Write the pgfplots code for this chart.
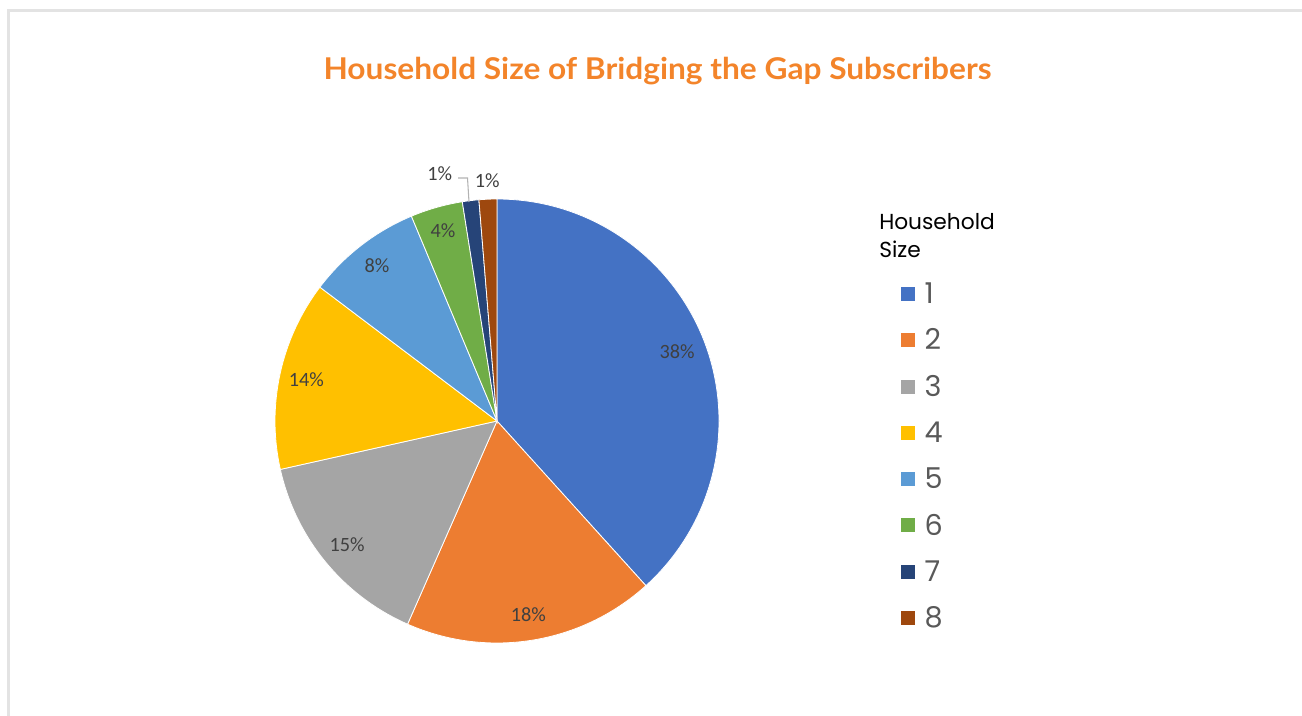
\documentclass[border=0pt]{standalone}
\usepackage{pgfplots}
\pgfplotsset{compat=1.18}
\usepackage{pgfplotstable}
\usepackage{fontspec}
\setmainfont{Carlito}
\newfontfamily\titlefont{Lato}
\newfontfamily\legfont{Poppins}

\definecolor{c1}{HTML}{4472C4}
\definecolor{c2}{HTML}{ED7D31}
\definecolor{c3}{HTML}{A5A5A5}
\definecolor{c4}{HTML}{FFC000}
\definecolor{c5}{HTML}{5B9BD5}
\definecolor{c6}{HTML}{70AD47}
\definecolor{c7}{HTML}{264478}
\definecolor{c8}{HTML}{9E480E}
\definecolor{titleorange}{HTML}{F3842A}
\definecolor{labgray}{HTML}{404040}
\definecolor{leggray}{HTML}{595959}

% household size, share in percent, label radius (px), label angle shift
\pgfplotstableread{
size value lr ldelta
1 38.3 193 0
2 18.3 196 0
3 14.9 194 0
4 13.8 195 0
5 8.4 196 0
6 3.8 198 0
7 1.2 254 6.2
8 1.3 241 0
}\piedata

\begin{document}
\begin{tikzpicture}
\begin{axis}[
at={(0,0)}, anchor=south west,
scale only axis,
width=976.5pt, height=536.25pt,
xmin=0, xmax=1302, ymin=0, ymax=715,
hide axis,
clip=false,
sq/.style={legend image code/.code={\fill[##1, draw=none] (0pt,-5.25pt) rectangle (10.5pt,5.25pt);}},
legend style={draw=none, fill=none, at={(axis cs:901,444)}, anchor=north west,
  font=\legfont\fontsize{21.5}{21.5}\selectfont, text=leggray,
  nodes={inner sep=0pt, minimum height=34.7pt},
  column sep=7.2pt, row sep=0pt, inner sep=0pt, outer sep=0pt},
legend cell align=left,
]
% frame of the chart area
\draw[gray!22, line width=2.25pt] (axis cs:8.8,-40) -- (axis cs:8.8,704.2) -- (axis cs:1340,704.2);

\def\cum{0}
\pgfplotsforeachungrouped \i in {0,...,7}{%
  \pgfplotstablegetelem{\i}{value}\of\piedata \let\v\pgfplotsretval
  \pgfplotstablegetelem{\i}{lr}\of\piedata \let\lr\pgfplotsretval
  \pgfplotstablegetelem{\i}{ldelta}\of\piedata \let\ld\pgfplotsretval
  \pgfmathsetmacro\a{90-3.6*\cum}
  \pgfmathsetmacro\b{90-3.6*(\cum+\v)}
  \pgfmathsetmacro\m{(\a+\b)/2+\ld}
  \pgfmathsetmacro\lx{497+\lr*cos(\m)}
  \pgfmathsetmacro\ly{294+\lr*sin(\m)}
  \pgfmathtruncatemacro\j{\i+1}
  \pgfmathtruncatemacro\lab{round(\v)}
  \edef\doit{%
    \noexpand\fill[c\j, draw=white, line width=0.6pt] (axis cs:497,294) -- ++(\a:166.5pt)
      arc[start angle=\a, end angle=\b, radius=166.5pt] -- cycle;
    \noexpand\node[font=\noexpand\fontsize{15.2}{15.2}\noexpand\selectfont, text=labgray]
      at (axis cs:\lx,\ly) {\lab\noexpand\%};
  }%
  \doit
  \pgfmathsetmacro\cum{\cum+\v}
}

% leader line for size 7
\addplot[gray!60, line width=0.8pt, forget plot] coordinates {(458,537) (467.5,537) (469,513)};

\node[anchor=base, text=titleorange, font=\titlefont\bfseries\fontsize{22.5}{22.5}\selectfont, xscale=1.055]
  at (axis cs:657.5,635.7) {Household Size of Bridging the Gap Subscribers};
\node[anchor=base west, align=left, font=\legfont\fontsize{16.3}{21}\selectfont, inner sep=0pt]
  at (axis cs:879,457) {Household\\Size};

\addlegendimage{sq, fill=c1}\addlegendentry{1}
\addlegendimage{sq, fill=c2}\addlegendentry{2}
\addlegendimage{sq, fill=c3}\addlegendentry{3}
\addlegendimage{sq, fill=c4}\addlegendentry{4}
\addlegendimage{sq, fill=c5}\addlegendentry{5}
\addlegendimage{sq, fill=c6}\addlegendentry{6}
\addlegendimage{sq, fill=c7}\addlegendentry{7}
\addlegendimage{sq, fill=c8}\addlegendentry{8}
\end{axis}
\pgfresetboundingbox
\useasboundingbox (0,0) rectangle (976.5pt,536.25pt);
\end{tikzpicture}
\end{document}
